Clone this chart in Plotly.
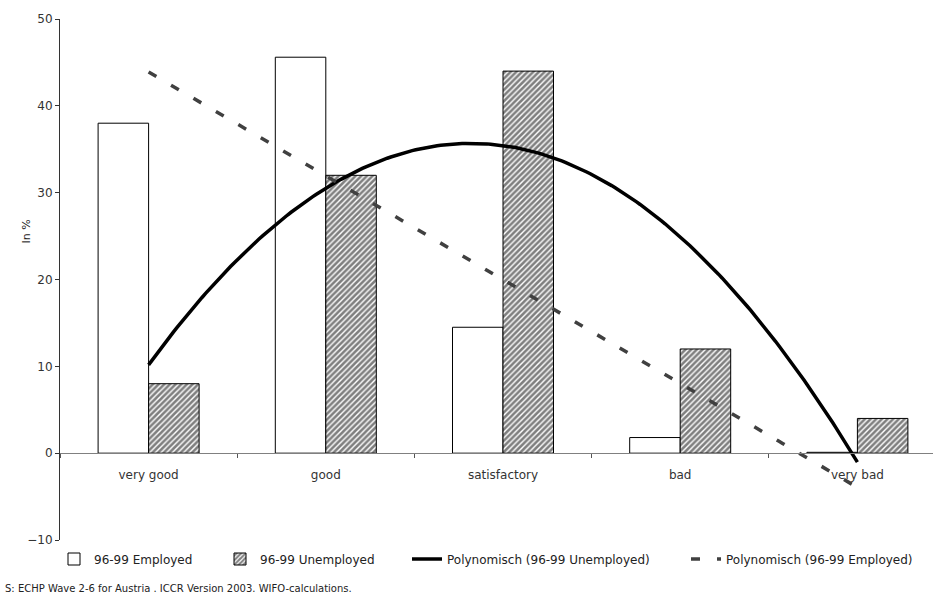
import numpy as np
import plotly.graph_objects as go

categories = ["very good", "good", "satisfactory", "bad", "very bad"]
employed = [38.0, 45.6, 14.5, 1.8, 0.1]
unemployed = [8.0, 32.0, 44.0, 12.0, 4.0]
y_ticks = [-10, 0, 10, 20, 30, 40, 50]
source_text = "S: ECHP Wave 2-6 for Austria . ICCR Version 2003. WIFO-calculations."

FONT = "DejaVu Sans"
W, H = 933, 599
ML, MR, MT, MB = 60, 0, 19, 59
PW = W - ML - MR
PH = H - MT - MB

xpos = np.arange(len(categories))
# Excel-style order-2 polynomial trendlines derived from the data
t = np.linspace(0, len(categories) - 1, 200)
poly_u = np.polyval(np.polyfit(xpos, unemployed, 2), t)
poly_e = np.polyval(np.polyfit(xpos, employed, 2), t)

fig = go.Figure()
fig.add_trace(go.Bar(
    x=xpos, y=employed, name="96-99 Employed", legend="legend", showlegend=True,
    marker=dict(color="white", line=dict(color="black", width=1)),
))
fig.add_trace(go.Bar(
    x=xpos, y=unemployed, name="96-99 Unemployed", legend="legend2", showlegend=True,
    marker=dict(color="white", line=dict(color="black", width=1),
                pattern=dict(shape="/", size=4, solidity=0.65,
                             fgcolor="black", bgcolor="white")),
))
fig.add_trace(go.Scatter(
    x=t, y=poly_u, mode="lines", name="Polynomisch (96-99 Unemployed)",
    legend="legend3", showlegend=True, line=dict(color="black", width=3.5),
))
fig.add_trace(go.Scatter(
    x=t, y=poly_e, mode="lines", name="Polynomisch (96-99 Employed)",
    legend="legend4", showlegend=True,
    line=dict(color="#404040", width=3.5, dash="9px,17px"),
))

def px_x(p):
    return (p - ML) / PW

def px_y(p):
    return (H - MB - p) / PH

leg_common = dict(orientation="h", yanchor="middle", xanchor="left",
                  y=px_y(559), font=dict(family=FONT, size=12, color="#222"),
                  bgcolor="rgba(0,0,0,0)")
text_starts = [96, 262, 449, 728]

xr0 = -0.5
xr1 = xr0 + PW / 177.2

fig.update_layout(
    width=W, height=H,
    margin=dict(l=ML, r=MR, t=MT, b=MB, pad=0),
    paper_bgcolor="white", plot_bgcolor="white",
    showlegend=True,
    barmode="group", bargap=0.43, bargroupgap=0,
    font=dict(family=FONT, size=12, color="#222"),
    legend=dict(x=px_x(text_starts[0] - 42), **leg_common),
    legend2=dict(x=px_x(text_starts[1] - 42), **leg_common),
    legend3=dict(x=px_x(text_starts[2] - 42), **leg_common),
    legend4=dict(x=px_x(text_starts[3] - 42), **leg_common),
    xaxis=dict(
        range=[xr0, xr1], tickmode="array", tickvals=list(xpos), ticktext=categories,
        ticks="outside", ticklen=10, tickcolor="rgba(0,0,0,0)",
        showline=True, linecolor="#808080", linewidth=1,
        anchor="free", position=10 / 60,
        showgrid=False, zeroline=False,
        tickfont=dict(family=FONT, size=12, color="#333"),
        minor=dict(ticks="outside", ticklen=4, tick0=0.5, dtick=1,
                   tickcolor="#555", tickwidth=1, showgrid=False),
    ),
    yaxis=dict(
        range=[-10, 50], tickmode="array", tickvals=y_ticks,
        ticks="outside", ticklen=4, tickcolor="#333",
        showline=True, linecolor="#333", linewidth=1,
        showgrid=False, zeroline=False,
        tickfont=dict(family=FONT, size=12, color="#333"),
    ),
    annotations=[
        dict(text="In %", textangle=-90, xref="paper", yref="paper",
             x=px_x(17), y=px_y(232), showarrow=False,
             font=dict(family=FONT, size=11, color="#222")),
        dict(text=source_text, xref="paper", yref="paper",
             x=px_x(3), y=px_y(588), xanchor="left", yanchor="middle",
             showarrow=False, font=dict(family=FONT, size=10, color="#222")),
    ],
)

fig.write_html(
    "out.html",
    config={"displayModeBar": False},
    post_script="document.body.style.margin='0';document.body.style.padding='0';",
)
